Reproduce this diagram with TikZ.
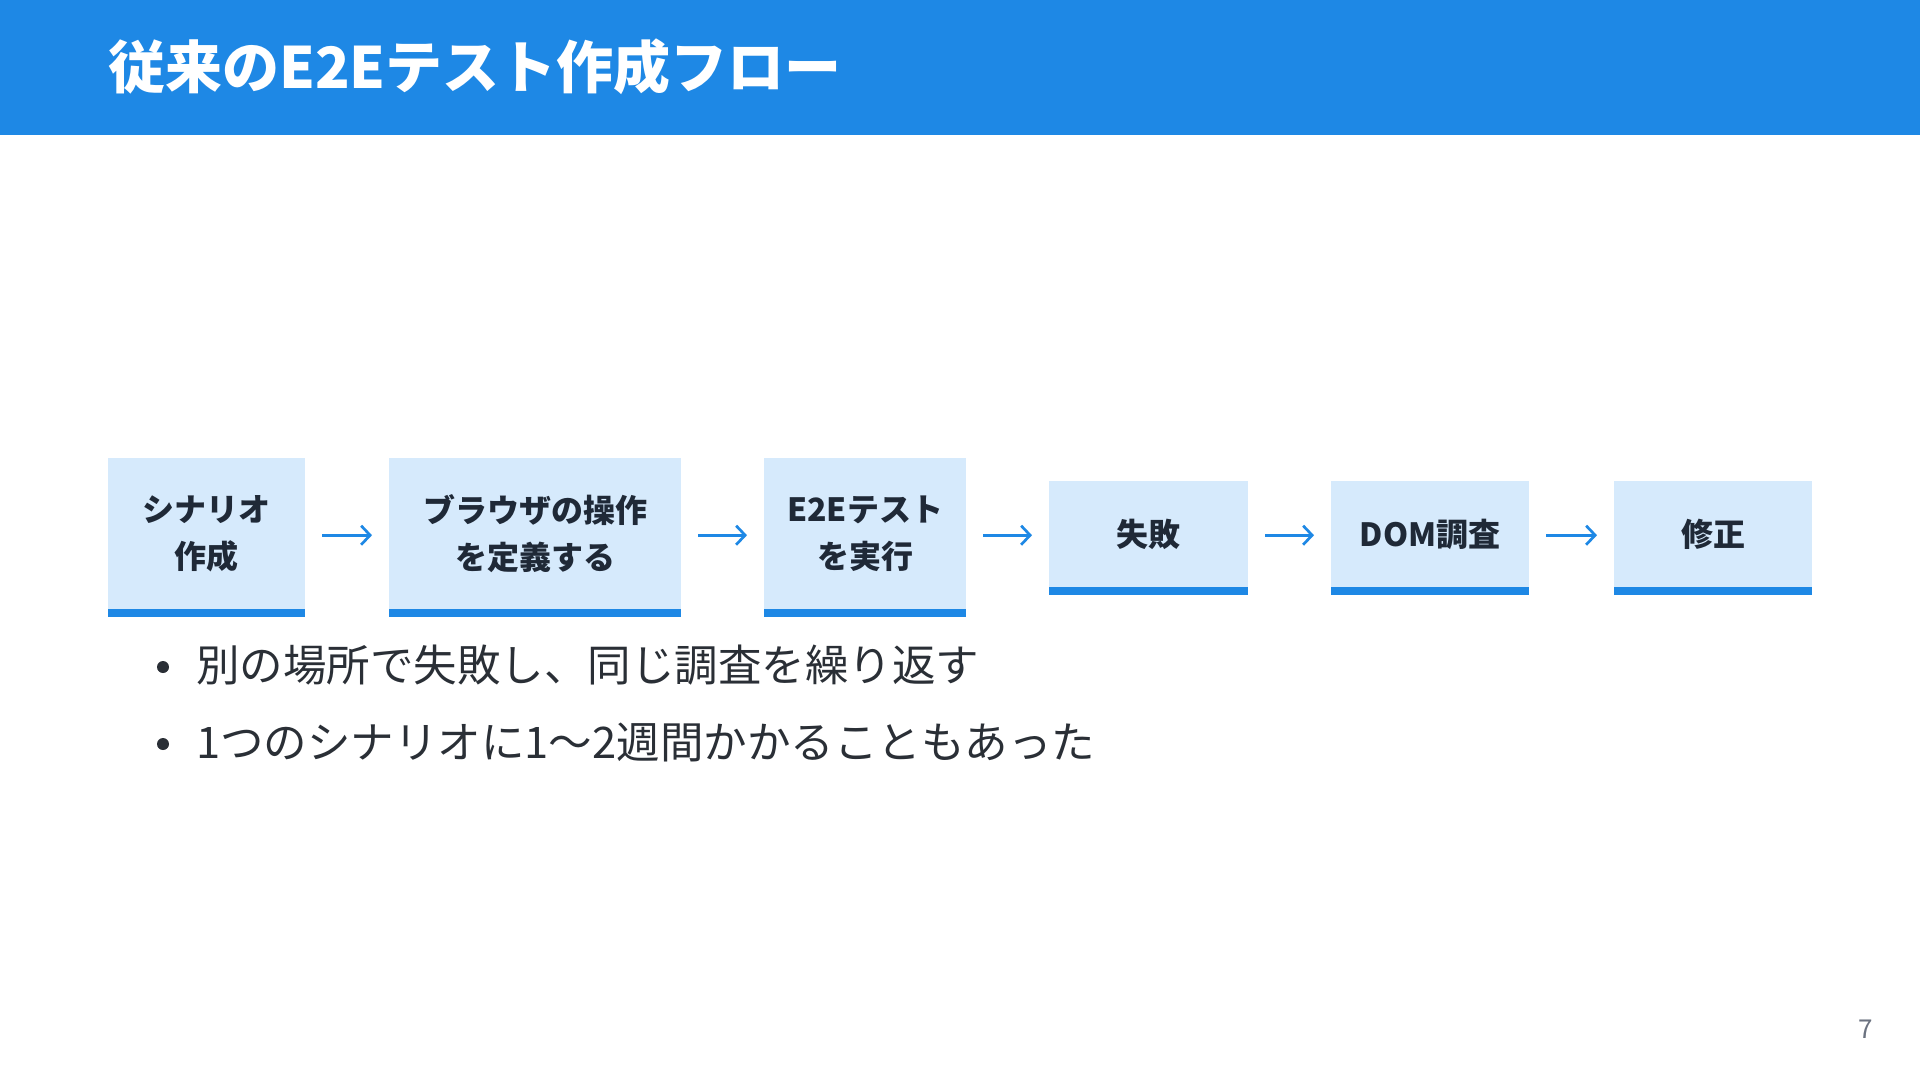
\documentclass[tikz,border=0pt]{standalone}
\usepackage{fontspec}
\setmainfont{Noto Sans CJK JP}
\usetikzlibrary{arrows.meta}
\definecolor{hdrblue}{RGB}{30,136,229}
\definecolor{boxfill}{RGB}{214,234,252}
\definecolor{boxtext}{RGB}{31,41,55}
\definecolor{bodytext}{RGB}{42,47,54}
\definecolor{pagegray}{RGB}{107,114,128}
\tikzset{
  flowbox/.style={fill=boxfill, inner sep=0pt, anchor=north west, align=center,
    text=boxtext, font=\bfseries\fontsize{32}{47}\selectfont},
  tallbox/.style={flowbox, minimum height=151pt},
  shortbox/.style={flowbox, minimum height=106pt},
  flowarrow/.style={draw=hdrblue, line width=2.7pt, shorten <=17pt, shorten >=17pt,
    -{Straight Barb[length=9pt,width=19pt]}},
  bullettext/.style={anchor=west, inner sep=0pt, text=bodytext, font=\fontsize{43.5}{52}\selectfont},
}
\begin{document}
\begin{tikzpicture}[x=1pt,y=-1pt]
\useasboundingbox (0,0) rectangle (1920,1080);
\fill[white] (0,0) rectangle (1920,1080);
% header
\fill[hdrblue] (0,0) rectangle (1920,135);
\node[anchor=west, inner sep=0pt, text=white, font=\bfseries\fontsize{57}{64}\selectfont] (title) at (108,67) {従来のE2Eテスト作成フロー};
% boxes
\node[tallbox, minimum width=197pt] (b1) at (108,458) {シナリオ\\作成};
\node[tallbox, minimum width=292pt] (b2) at (389,458) {ブラウザの操作\\を定義する};
\node[tallbox, minimum width=202pt] (b3) at (764,458) {E2Eテスト\\を実行};
\node[shortbox, minimum width=199pt] (b4) at (1049,481) {失敗};
\node[shortbox, minimum width=198pt] (b5) at (1331,481) {DOM調査};
\node[shortbox, minimum width=198pt] (b6) at (1614,481) {修正};
% bottom bars
\foreach \b in {b1,b2,b3,b4,b5,b6}{
  \fill[hdrblue] (\b.south west) rectangle ([yshift=-8pt]\b.south east);
}
% arrows
\draw[flowarrow] ([yshift=-1.5pt]b1.east) -- ([yshift=-1.5pt]b2.west);
\draw[flowarrow] ([yshift=-1.5pt]b2.east) -- ([yshift=-1.5pt]b3.west);
\draw[flowarrow] ([yshift=-1.5pt]b3.east) -- ([yshift=-1pt]b4.west);
\draw[flowarrow] ([yshift=-1pt]b4.east) -- ([yshift=-1pt]b5.west);
\draw[flowarrow] ([yshift=-1pt]b5.east) -- ([yshift=-1pt]b6.west);
% bullets
\fill[bodytext] (163,667) circle (6pt);
\node[bullettext] (t1) at (196,665) {別の場所で失敗し、同じ調査を繰り返す};
\fill[bodytext] (163,744) circle (6pt);
\node[bullettext] (t2) at (196,742) {1つのシナリオに1〜2週間かかることもあった};
% page number
\node[text=pagegray, inner sep=0pt, font=\fontsize{26}{30}\selectfont] (pg) at (1866,1029) {7};
\end{tikzpicture}
\end{document}
